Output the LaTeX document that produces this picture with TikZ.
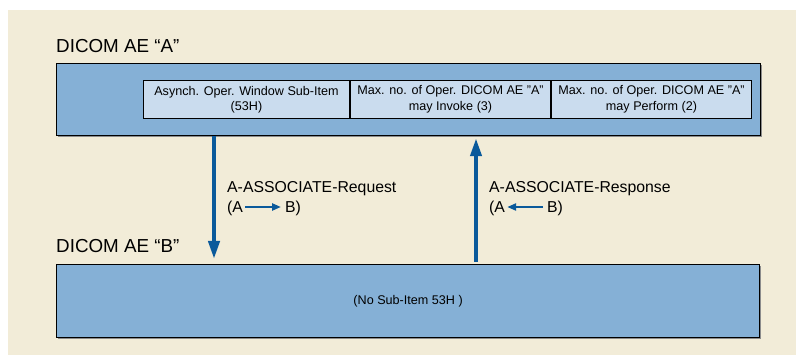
\documentclass[tikz,border=0pt]{standalone}
\usepackage{fontspec}
\setmainfont{Liberation Sans}
\usetikzlibrary{arrows.meta,calc,shadows}
\definecolor{bg}{HTML}{F2ECD8}
\definecolor{boxblue}{HTML}{85B0D6}
\definecolor{subblue}{HTML}{CADCEE}
\definecolor{arrowblue}{HTML}{0B5A9B}
\begin{document}
\begin{tikzpicture}[x=1pt,y=-1pt,
  bigbox/.style={draw=black, line width=1.2pt, fill=boxblue, inner sep=0pt,
    drop shadow={shadow xshift=1.2pt, shadow yshift=-1.2pt, fill=black!45, opacity=1}},
  subitem/.style={draw=black, line width=1pt, fill=subblue, inner sep=0pt,
    minimum height=38pt, align=center, font=\fontsize{12.6}{15.5}\selectfont},
  title/.style={anchor=base west, inner sep=0pt, font=\fontsize{18.8}{22}\selectfont},
  lbl/.style={anchor=base west, inner sep=0pt, font=\fontsize{15.8}{19}\selectfont},
  bigarrow/.style={draw=arrowblue, line width=4pt, -{Triangle[length=18pt,width=11pt]}},
  smallarrow/.style={draw=arrowblue, line width=2.5pt, -{Triangle[length=9pt,width=7pt]}}
]
\useasboundingbox (0,0) rectangle (796,355);
\fill[white] (0,0) rectangle (796,355);
\fill[bg] (8,10) rectangle (796,355);

% AE A
\node[title] (labA) at (56,53) {DICOM AE “A”};
\node[bigbox, minimum width=704pt, minimum height=72pt, anchor=north west] (boxA) at (56,63) {};
\node[subitem, minimum width=206pt, anchor=north west] (s1) at (143,80) {Asynch. Oper. Window Sub-Item\\(53H)};
\node[subitem, minimum width=200pt, anchor=north west] (s2) at (s1.north east) {Max. no. of Oper. DICOM AE "A"\\may Invoke (3)};
\node[subitem, minimum width=200pt, anchor=north west] (s3) at (s2.north east) {Max. no. of Oper. DICOM AE "A"\\may Perform (2)};

% AE B
\node[title] (labB) at (56,253) {DICOM AE “B”};
\node[bigbox, minimum width=703pt, minimum height=73pt, anchor=north west,
  font=\fontsize{12.6}{15}\selectfont] (boxB) at (56,264) {(No Sub-Item 53H )};

% arrows
\coordinate (dx) at (214,0);
\coordinate (ux) at (476,0);
\draw[bigarrow, shorten >=5pt] (boxA.south -| dx) -- (boxB.north -| dx);
\draw[bigarrow, shorten <=2pt, shorten >=2pt] (boxB.north -| ux) -- (boxA.south -| ux);

% request label
\node[lbl] (req) at (227,193) {A-ASSOCIATE-Request};
\node[lbl] (ra1) at (227,213) {(A};
\node[lbl] (rb1) at (285,213) {B)};
\draw[smallarrow] ($(ra1.base east)+(2,-6)$) -- ($(rb1.base west)+(-4,-6)$);

% response label
\node[lbl] (resp) at (489,193) {A-ASSOCIATE-Response};
\node[lbl] (ra2) at (489,213) {(A};
\node[lbl] (rb2) at (547,213) {B)};
\draw[smallarrow] ($(rb2.base west)+(-4,-6)$) -- ($(ra2.base east)+(2,-6)$);
\end{tikzpicture}
\end{document}
